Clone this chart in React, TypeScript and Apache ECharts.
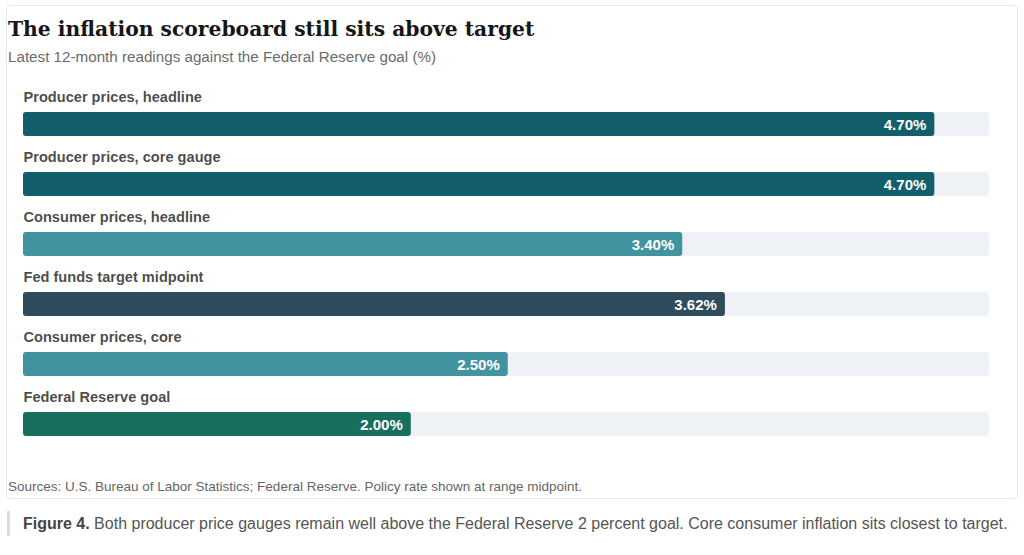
import React, { useEffect, useRef } from "react";
import * as echarts from "echarts";

const categories = [
  "Producer prices, headline",
  "Producer prices, core gauge",
  "Consumer prices, headline",
  "Fed funds target midpoint",
  "Consumer prices, core",
  "Federal Reserve goal",
];
const values = [4.7, 4.7, 3.4, 3.62, 2.5, 2.0];
const barColors = ["#125e6a", "#125e6a", "#4193a0", "#2f4c5c", "#4193a0", "#17705d"];
const headroom = 1.06;

const titleText = "The inflation scoreboard still sits above target";
const subtitleText = "Latest 12-month readings against the Federal Reserve goal (%)";
const sourceText =
  "Sources: U.S. Bureau of Labor Statistics; Federal Reserve. Policy rate shown at range midpoint.";
const captionBold = "Figure 4.";
const captionText =
  " Both producer price gauges remain well above the Federal Reserve 2 percent goal. Core consumer inflation sits closest to target.";

const SANS = "'Liberation Sans', Arial, sans-serif";

export default function App() {
  const ref = useRef<HTMLDivElement>(null);
  useEffect(() => {
    if (!ref.current) return;
    const chart = echarts.init(ref.current, undefined, { renderer: "svg" });
    const axisMax = Math.max(...values) * headroom;
    chart.setOption({
      animation: false,
      backgroundColor: "#ffffff",
      grid: { left: 23, right: 35, top: 94, bottom: 101, containLabel: false },
      xAxis: { type: "value", min: 0, max: axisMax, show: false },
      yAxis: {
        type: "category",
        inverse: true,
        data: categories,
        axisLine: { show: false },
        axisTick: { show: false },
        splitLine: { show: false },
        axisLabel: { show: false },
      },
      series: [
        {
          type: "bar",
          barWidth: 24,
          data: values.map((v, i) => ({ value: v, itemStyle: { color: barColors[i] } })),
          itemStyle: { borderRadius: 3 },
          showBackground: true,
          backgroundStyle: { color: "#eef2f7", borderRadius: 3 },
          label: {
            show: true,
            position: "insideRight",
            distance: 8,
            color: "#ffffff",
            fontFamily: SANS,
            fontWeight: "bold",
            fontSize: 15,
            formatter: (p: any) => Number(p.value).toFixed(2) + "%",
          },
          z: 2,
        },
        {
          type: "scatter",
          data: categories.map((c, i) => [0, i]),
          symbolSize: 1,
          itemStyle: { color: "rgba(0,0,0,0)" },
          silent: true,
          label: {
            show: true,
            position: "right",
            distance: 0,
            offset: [0, -27],
            color: "#1a1a1a",
            fontFamily: SANS,
            fontWeight: "bold",
            fontSize: 14.6,
            formatter: (p: any) => categories[p.dataIndex],
          },
          z: 3,
        },
      ],
      graphic: [
        {
          type: "rect",
          shape: { x: 6.5, y: 5.5, width: 1011, height: 493, r: 4 },
          style: { fill: "none", stroke: "#e6e8ea", lineWidth: 1 },
          z: -1,
        },
        {
          type: "text",
          x: 8,
          y: 29,
          style: {
            text: titleText,
            font: "bold 20.3px 'DejaVu Serif', Georgia, serif",
            fill: "#161616",
            textVerticalAlign: "middle",
          },
        },
        {
          type: "text",
          x: 8,
          y: 56,
          style: {
            text: subtitleText,
            font: "15.2px " + SANS,
            fill: "#6b6b6b",
            textVerticalAlign: "middle",
          },
        },
        {
          type: "text",
          x: 8,
          y: 486,
          style: {
            text: sourceText,
            font: "13.5px " + SANS,
            fill: "#666666",
            textVerticalAlign: "middle",
          },
        },
        {
          type: "rect",
          shape: { x: 7, y: 511, width: 3, height: 25 },
          style: { fill: "#dddddd" },
        },
        {
          type: "text",
          x: 23,
          y: 523,
          style: {
            text: "{b|" + captionBold + "}" + captionText,
            font: "16px " + SANS,
            fill: "#555555",
            textVerticalAlign: "middle",
            rich: {
              b: { fontWeight: "bold", fontSize: 16, fontFamily: SANS, fill: "#444444" },
            },
          },
        },
      ],
    });
    return () => chart.dispose();
  }, []);
  return (
    <div
      ref={ref}
      style={{ position: "fixed", left: 0, top: 0, width: 1024, height: 555 }}
    />
  );
}
